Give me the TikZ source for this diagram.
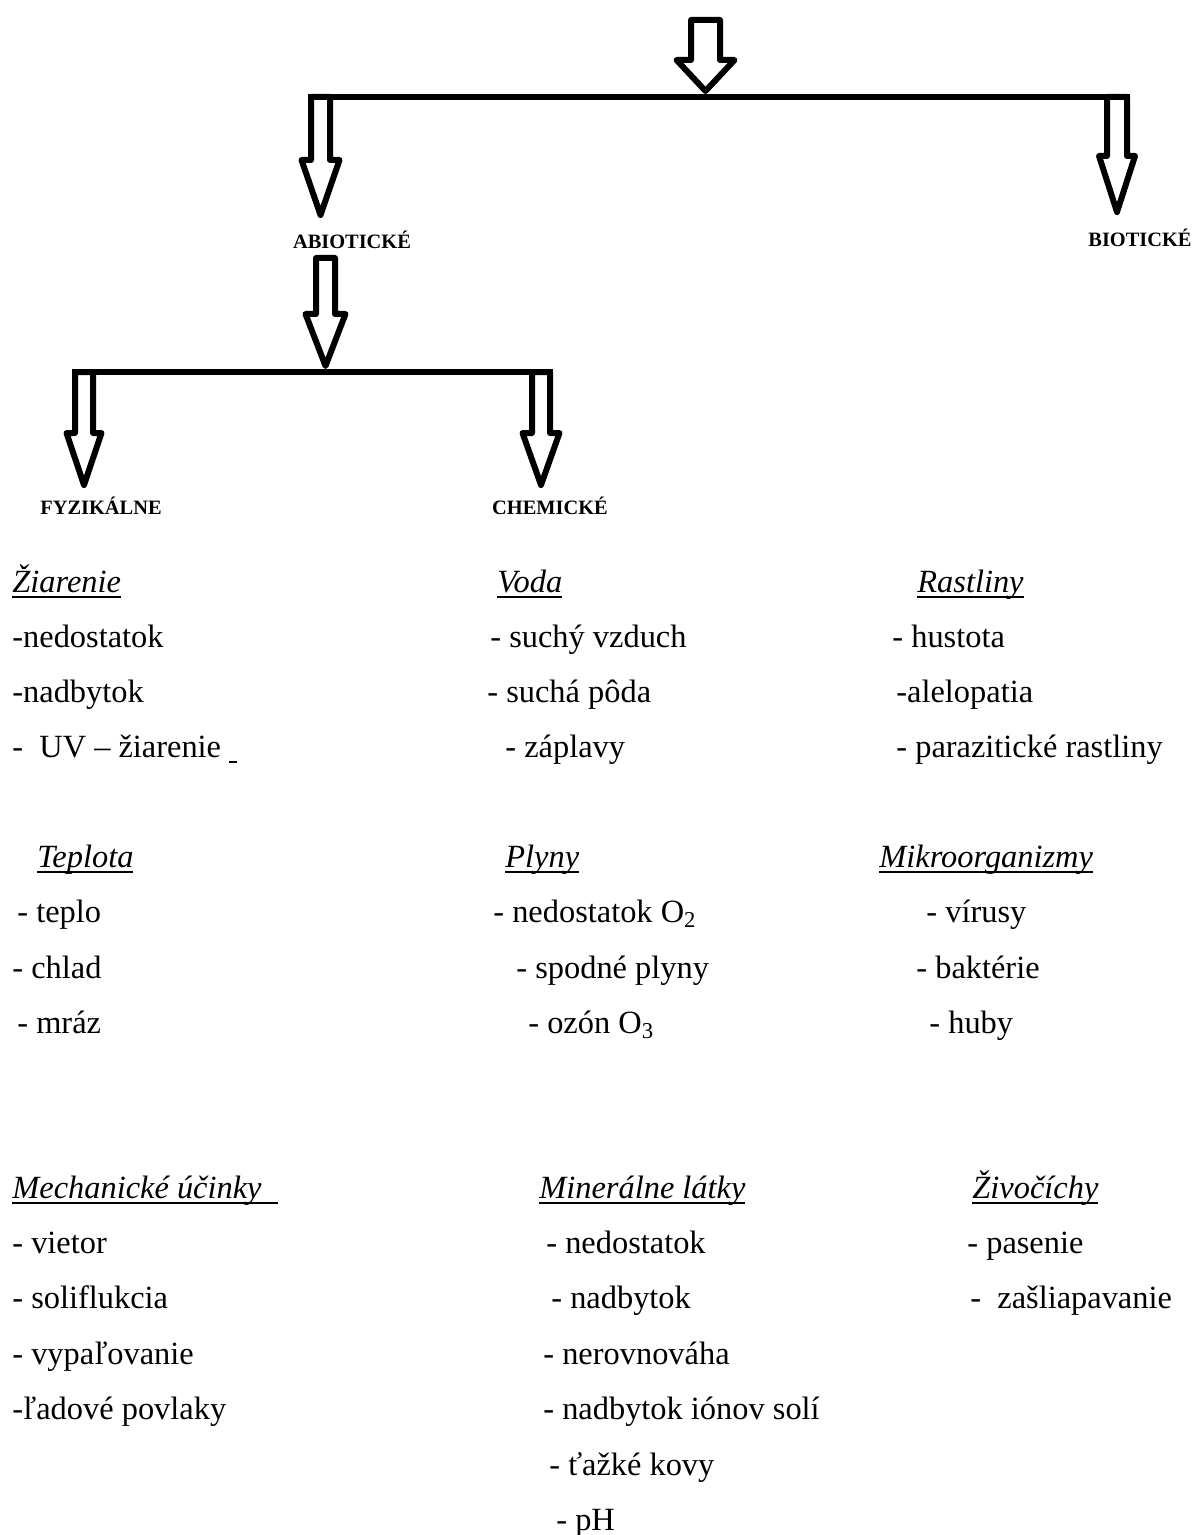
\documentclass[tikz,border=0pt]{standalone}
\usepackage{fontspec}
\setmainfont{Liberation Serif}
\usetikzlibrary{positioning}

% word-style underline (fixed depth, also under descenders)
\newsavebox\hdrbox
\newcommand{\hdr}[1]{\sbox\hdrbox{\itshape #1}\rlap{\rule[-3pt]{\wd\hdrbox}{1pt}}\usebox\hdrbox}
\newcommand{\ulgap}{\rlap{\rule[-3pt]{4pt}{1pt}}\hspace{4pt}}

\tikzset{
  bar/.style={line width=3pt,line cap=rect},
  blockarrow/.style={draw,line width=3pt,line join=round},
  kind/.style={font=\fontsize{10.2}{12}\selectfont\bfseries,anchor=base,inner sep=0pt},
  item/.style={font=\fontsize{16.2}{19}\selectfont,anchor=base west,inner sep=0pt},
}
% cx, top, head y, tip y, shaft half width, head half width
\newcommand{\fatarrow}[6]{\draw[blockarrow] (#1-#5,#2) -- (#1-#5,#3) -- (#1-#6,#3) -- (#1,#4) -- (#1+#6,#3) -- (#1+#5,#3) -- (#1+#5,#2) -- cycle;}

\begin{document}
\begin{tikzpicture}[x=0.5pt,y=-0.5pt]
        \useasboundingbox (0,0) rectangle (1193,1535);
        % top level
        \coordinate (barL) at (311,97);
        \coordinate (barR) at (1127,97);
        \draw[bar] (barL) -- (barR);
        \fatarrow{705.5}{20}{60}{91}{14.5}{29}
        \fatarrow{320.5}{97}{160}{215}{9.5}{19}
        \fatarrow{1117}{97}{156}{212}{10}{18}
        \node[kind] (abiot) at (352,249) {ABIOTICKÉ};
        \node[kind] (biot) at (1140,247) {BIOTICKÉ};
        % second level
        \coordinate (subL) at (75,372);
        \coordinate (subR) at (550,372);
        \draw[bar] (subL) -- (subR);
        \fatarrow{325.5}{258}{314}{366}{9.5}{20}
        \fatarrow{84}{372}{433}{485}{9}{17.5}
        \fatarrow{541}{372}{433}{485}{9}{18.5}
        \node[kind] (fyz) at (101,514) {FYZIKÁLNE};
        \node[kind] (chem) at (550,514) {CHEMICKÉ};

        % left column
        \node[item] (ziar) at (12,592) {\hdr{Žiarenie}};
        \node[item] (ziar1) at (12,647) {-nedostatok};
        \node[item] (ziar2) at (12,702) {-nadbytok};
        \node[item] (ziar3) at (12,757) {-\ \ UV – žiarenie \ulgap};
        \node[item] (tepl) at (37,867) {\hdr{Teplota}};
        \node[item] (tepl1) at (17,922) {- teplo};
        \node[item] (tepl2) at (12,978) {- chlad};
        \node[item] (tepl3) at (17,1033) {- mráz};
        \node[item] (mech) at (12,1198) {\hdr{Mechanické účinky\ \ }};
        \node[item] (mech1) at (12,1253) {- vietor};
        \node[item] (mech2) at (12,1308) {- soliflukcia};
        \node[item] (mech3) at (12,1364) {- vypaľovanie};
        \node[item] (mech4) at (12,1419) {-ľadové povlaky};

        % middle column
        \node[item] (voda) at (497,592) {\hdr{Voda}};
        \node[item] (voda1) at (490,647) {- suchý vzduch};
        \node[item] (voda2) at (487,702) {- suchá pôda};
        \node[item] (voda3) at (505,757) {- záplavy};
        \node[item] (plyn) at (505,867) {\hdr{Plyny}};
        \node[item] (plyn1) at (493,922) {- nedostatok O\textsubscript{2}};
        \node[item] (plyn2) at (516,978) {- spodné plyny};
        \node[item] (plyn3) at (528,1033) {- ozón O\textsubscript{3}};
        \node[item] (mine) at (539,1198) {\hdr{Minerálne látky}};
        \node[item] (mine1) at (546,1253) {- nedostatok};
        \node[item] (mine2) at (551,1308) {- nadbytok};
        \node[item] (mine3) at (543,1364) {- nerovnováha};
        \node[item] (mine4) at (543,1419) {- nadbytok iónov solí};
        \node[item] (mine5) at (549,1475) {- ťažké kovy};
        \node[item] (mine6) at (556,1530) {- pH};

        % right column
        \node[item] (rast) at (917,592) {\hdr{Rastliny}};
        \node[item] (rast1) at (892,647) {- hustota};
        \node[item] (rast2) at (896,702) {-alelopatia};
        \node[item] (rast3) at (896,757) {- parazitické rastliny};
        \node[item] (mikr) at (879,867) {\hdr{Mikroorganizmy}};
        \node[item] (mikr1) at (926,922) {- vírusy};
        \node[item] (mikr2) at (916,978) {- baktérie};
        \node[item] (mikr3) at (929,1033) {- huby};
        \node[item] (zivo) at (972,1198) {\hdr{Živočíchy}};
        \node[item] (zivo1) at (967,1253) {- pasenie};
        \node[item] (zivo2) at (970,1308) {-\ \ zašliapavanie};
      \end{tikzpicture}
\end{document}
